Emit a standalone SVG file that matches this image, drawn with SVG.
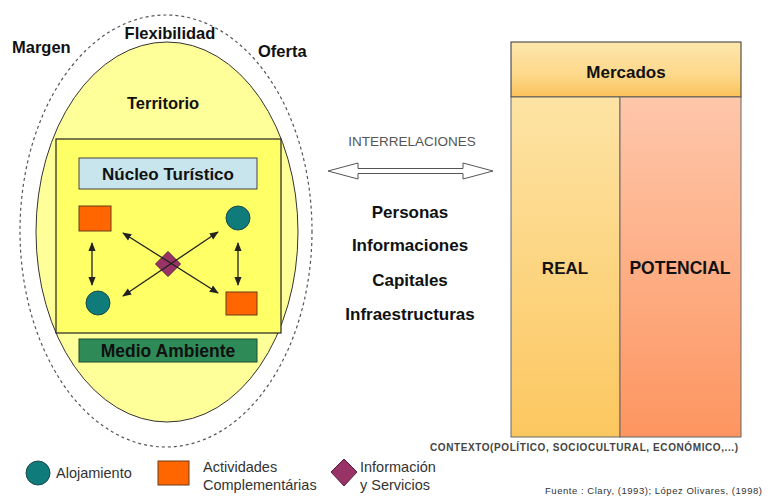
<svg xmlns="http://www.w3.org/2000/svg" width="767" height="498" viewBox="0 0 767 498">
<defs>
<linearGradient id="gMerc" x1="0" y1="0" x2="0" y2="1"><stop offset="0" stop-color="#fde6ad"/><stop offset="0.6" stop-color="#fcd88a"/><stop offset="1" stop-color="#fbc25a"/></linearGradient>
<linearGradient id="gReal" x1="0" y1="0" x2="0" y2="1"><stop offset="0" stop-color="#fde3a4"/><stop offset="1" stop-color="#fcc760"/></linearGradient>
<linearGradient id="gPot" x1="0" y1="0" x2="0" y2="1"><stop offset="0" stop-color="#fec7ab"/><stop offset="1" stop-color="#fd9560"/></linearGradient>
<marker id="ah" viewBox="0 0 10 10" refX="9" refY="5" markerWidth="7" markerHeight="7" orient="auto-start-reverse"><path d="M0,1 L10,5 L0,9 Z" fill="#222"/></marker>
</defs>
<style>
.b{font-family:"Liberation Sans",Arial,sans-serif;font-weight:bold;fill:#111}
.r{font-family:"Liberation Sans",Arial,sans-serif;fill:#333}
.teal{fill:#0f7b7b;stroke:#1d4a4a;stroke-width:1}
.org{fill:#ff6600;stroke:#6b3a1a;stroke-width:1}
.pur{fill:#993366;stroke:#5a1e3c;stroke-width:1}
.ln{stroke:#222;stroke-width:1.3;fill:none;marker-start:url(#ah);marker-end:url(#ah)}
</style>
<rect width="767" height="498" fill="#fff"/>
<g id="margen-ellipse">
<ellipse cx="166" cy="231" rx="146" ry="216" fill="none" stroke="#555" stroke-width="1.2" stroke-dasharray="3,3"/>
</g>
<g id="territorio">
<ellipse cx="167" cy="232" rx="131" ry="190" fill="#ffff99" stroke="#333" stroke-width="1"/>
<text class="b" x="163" y="109" font-size="16.5" text-anchor="middle">Territorio</text>
</g>
<text class="b" x="12" y="53" font-size="16.5">Margen</text>
<text class="b" x="170" y="39" font-size="16.5" text-anchor="middle">Flexibilidad</text>
<text class="b" x="258" y="57" font-size="16.5">Oferta</text>
<g id="nucleo-area">
<rect x="56" y="139" width="225" height="194" fill="#ffff66" stroke="#222" stroke-width="1.2"/>
</g>
<g id="nucleo-turistico">
<rect x="79" y="158" width="178" height="31" fill="#c8e4ec" stroke="#444" stroke-width="1"/>
<text class="b" x="168" y="180" font-size="17" text-anchor="middle">Núcleo Turístico</text>
</g>
<g id="act1"><rect class="org" x="79" y="206" width="32" height="25"/></g>
<g id="aloj1"><circle class="teal" cx="238" cy="218" r="12"/></g>
<g id="aloj2"><circle class="teal" cx="98" cy="303" r="12"/></g>
<g id="act2"><rect class="org" x="226" y="292" width="31" height="23"/></g>
<g id="info"><path class="pur" d="M168,251.5 L180.5,264 L168,276.5 L155.5,264 Z"/></g>
<g id="connectors">
<line class="ln" x1="92" y1="243" x2="92" y2="285"/>
<line class="ln" x1="238" y1="243" x2="238" y2="285"/>
<line class="ln" x1="123" y1="233" x2="218" y2="293"/>
<line class="ln" x1="123" y1="296" x2="218" y2="232"/>
<path d="M328,171 L358,163 L358,168.5 L463,168.5 L463,163 L493,171 L463,179 L463,173.5 L358,173.5 L358,179 Z" fill="#fff" stroke="#555" stroke-width="1"/>
</g>
<g id="medio-ambiente">
<rect x="79" y="339" width="178" height="23" fill="#2e8b57" stroke="#1d4a33" stroke-width="1"/>
<text class="b" x="168" y="357" font-size="17.5" text-anchor="middle">Medio Ambiente</text>
</g>
<g id="interrelaciones">
<text class="r" x="412" y="146" font-size="13.5" text-anchor="middle" fill="#555" style="fill:#555">INTERRELACIONES</text>
<text class="b" x="410" y="218" font-size="17" text-anchor="middle">Personas</text>
<text class="b" x="410" y="251" font-size="17" text-anchor="middle">Informaciones</text>
<text class="b" x="410" y="286" font-size="17" text-anchor="middle">Capitales</text>
<text class="b" x="410" y="320" font-size="17" text-anchor="middle">Infraestructuras</text>
</g>
<g id="mercados">
<rect x="511" y="42" width="230" height="55" fill="url(#gMerc)" stroke="#333" stroke-width="1"/>
<text class="b" x="626" y="78" font-size="17" text-anchor="middle">Mercados</text>
</g>
<g id="real">
<rect x="511" y="97" width="109" height="340" fill="url(#gReal)" stroke="#666" stroke-width="1"/>
<text class="b" x="565" y="274" font-size="17" text-anchor="middle">REAL</text>
</g>
<g id="potencial">
<rect x="620" y="97" width="121" height="340" fill="url(#gPot)" stroke="#666" stroke-width="1"/>
<text class="b" x="680" y="274" font-size="17.5" text-anchor="middle">POTENCIAL</text>
</g>
<text class="r" x="430" y="451" font-size="10" textLength="308" font-weight="bold" style="fill:#444">CONTEXTO(POLÍTICO, SOCIOCULTURAL, ECONÓMICO,...)</text>
<g id="legend">
<circle class="teal" cx="38" cy="473" r="12"/>
<text class="r" x="56" y="478" font-size="14.5">Alojamiento</text>
<rect class="org" x="158" y="461" width="31" height="24"/>
<text class="r" x="203" y="472" font-size="14.5">Actividades</text>
<text class="r" x="203" y="490" font-size="14.5">Complementárias</text>
<path class="pur" d="M344,459 L357,472 L344,486 L331,472 Z"/>
<text class="r" x="360" y="472" font-size="14.5">Información</text>
<text class="r" x="360" y="490" font-size="14.5">y Servicios</text>
</g>
<text class="r" x="545" y="494" font-size="9.5" textLength="217" style="fill:#333">Fuente :  Clary, (1993); López Olivares, (1998)</text>
</svg>
